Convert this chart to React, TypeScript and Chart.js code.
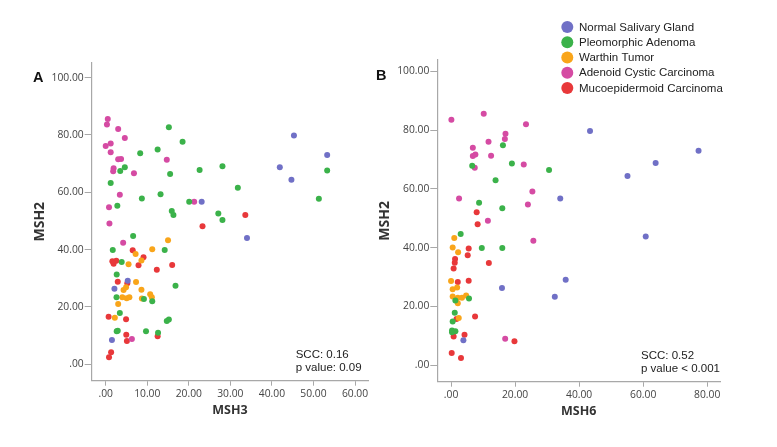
import React, { useEffect, useRef } from "react";
import { Chart, registerables } from "chart.js";

Chart.register(...registerables);

// ---------- data ----------
const groupLabels = [
  "Normal Salivary Gland",
  "Pleomorphic Adenoma",
  "Warthin Tumor",
  "Adenoid Cystic Carcinoma",
  "Mucoepidermoid Carcinoma",
];

const tickLabelsX_A = [0, 10, 20, 30, 40, 50, 60];
const tickLabelsX_B = [0, 20, 40, 60, 80];
const tickLabelsY = [0, 20, 40, 60, 80, 100];

// Panel A: [MSH3, MSH2]
const normalA: [number, number][] = [
  [45.3, 79.8], [53.3, 73.0], [41.9, 68.7], [44.7, 64.4], [23.1, 56.7],
  [34.0, 44.0], [5.3, 29.1], [2.1, 26.3], [1.5, 8.5],
];
const pleomorphicA: [number, number][] = [
  [15.2, 82.7], [18.5, 77.6], [8.3, 73.6], [12.5, 74.9], [4.6, 68.7], [3.5, 67.4],
  [15.5, 66.4], [22.6, 67.8], [28.1, 69.1], [31.8, 61.6], [53.3, 67.6], [51.3, 57.7],
  [1.2, 63.2], [8.7, 57.8], [13.2, 59.3], [2.8, 55.3], [20.1, 56.7], [15.9, 53.5],
  [16.3, 52.1], [27.1, 52.6], [28.1, 50.3], [6.6, 44.7], [1.7, 39.9], [14.2, 39.9],
  [3.85, 35.7], [2.65, 31.3], [16.8, 27.4], [2.6, 23.4], [9.2, 22.8], [11.2, 22.0],
  [3.4, 17.9], [14.7, 15.1], [15.2, 15.6], [2.65, 11.5], [2.9, 11.7], [9.7, 11.5],
  [12.6, 11.0],
];
const warthinA: [number, number][] = [
  [15.0, 43.3], [11.2, 40.1], [7.2, 38.5], [8.6, 36.2], [5.5, 34.9], [7.3, 28.7],
  [4.3, 25.9], [4.9, 26.9], [8.6, 26.0], [4.0, 23.4], [5.05, 23.0], [5.7, 23.4],
  [8.7, 22.9], [10.7, 24.4], [11.1, 23.4], [3.0, 21.0], [2.2, 16.2],
];
const adenoidA: [number, number][] = [
  [0.5, 85.6], [0.3, 83.6], [3.0, 82.1], [4.6, 78.9], [1.2, 77.0], [0.0, 76.1],
  [1.2, 74.0], [3.0, 71.5], [3.7, 71.6], [14.7, 71.3], [1.9, 68.4], [1.8, 67.3],
  [6.8, 66.6], [3.4, 59.1], [0.8, 54.8], [0.9, 49.1], [21.3, 56.7], [4.2, 42.4],
  [6.3, 8.8],
];
const mucoepidermoidA: [number, number][] = [
  [33.6, 52.1], [23.3, 48.1], [6.5, 39.8], [9.1, 37.3], [7.9, 34.5], [16.0, 34.6],
  [12.3, 33.0], [1.6, 35.9], [2.55, 36.1], [1.9, 35.1], [2.9, 28.8], [5.2, 28.3],
  [0.7, 16.6], [4.9, 15.7], [4.95, 10.3], [5.1, 8.1], [12.5, 9.8], [1.3, 4.2],
  [0.8, 2.4],
];

// Panel B: [MSH6, MSH2]
const normalB: [number, number][] = [
  [43.4, 79.7], [77.3, 73.0], [63.9, 68.8], [55.1, 64.4], [34.1, 56.8],
  [60.8, 43.8], [35.8, 29.1], [15.9, 26.3], [32.4, 23.3], [3.85, 8.5],
];
const pleomorphicB: [number, number][] = [
  [16.2, 74.9], [19.0, 68.7], [30.6, 66.5], [6.6, 67.9], [13.9, 63.0], [8.75, 55.3],
  [16.0, 53.4], [3.0, 44.7], [9.6, 39.9], [16.0, 39.9], [5.6, 22.7], [1.35, 22.0],
  [1.15, 17.9], [0.5, 14.9], [0.3, 11.8], [1.35, 11.6], [0.3, 11.2],
];
const warthinB: [number, number][] = [
  [1.0, 43.3], [0.5, 40.1], [2.2, 38.5], [0.0, 28.7], [0.5, 25.9], [1.9, 26.5],
  [0.5, 23.4], [2.1, 23.0], [3.4, 23.0], [4.7, 23.7], [2.1, 21.1], [2.4, 16.1],
];
const adenoidB: [number, number][] = [
  [0.1, 83.6], [10.2, 85.6], [23.4, 82.0], [17.0, 78.8], [16.8, 77.0], [11.7, 76.1],
  [6.8, 74.0], [6.8, 71.2], [7.6, 71.7], [12.5, 71.3], [22.7, 68.3], [7.4, 67.2],
  [2.5, 56.8], [25.4, 59.1], [24.0, 54.7], [11.5, 49.2], [25.7, 42.4], [16.9, 9.0],
];
const mucoepidermoidB: [number, number][] = [
  [8.0, 52.1], [8.3, 48.0], [5.5, 39.7], [5.2, 37.4], [1.25, 36.2], [1.15, 34.9],
  [0.8, 32.9], [11.8, 34.8], [2.1, 28.3], [5.5, 28.8], [7.5, 16.6], [1.7, 15.7],
  [4.2, 10.4], [0.8, 9.8], [19.8, 8.2], [0.2, 4.2], [3.1, 2.5],
];

const statsA = ["SCC: 0.16", "p value: 0.09"];
const statsB = ["SCC: 0.52", "p value < 0.001"];

// ---------- styles ----------
const groupColors = ["#7070c6", "#3bb24a", "#f9a51a", "#d54ba3", "#e8383a"];
const axisGray = "#a8a8a8";
const tickColor = "#444444";
const tickFont = { family: "'Open Sans', sans-serif", size: 10.3 };
const sansFont = "'Liberation Sans', Arial, sans-serif";

const fmt = (v: number | string) => {
  const n = Number(v);
  return n === 0 ? ".00" : n.toFixed(2);
};

function toDatasets(groups: [number, number][][]) {
  return groups.map((pts, i) => ({
    label: groupLabels[i],
    data: pts.map(([x, y]) => ({ x, y })),
    backgroundColor: groupColors[i],
    borderWidth: 0,
    pointRadius: 3,
    pointHoverRadius: 3,
  }));
}

type PanelOpts = {
  id: string;
  groups: [number, number][][];
  xTitle: string;
  xTicks: number[];
  xMin: number;
  xMax: number;
  yMin: number;
  yMax: number;
  padding: { left: number; right: number; top: number; bottom: number };
  yWidth: number;
  xHeight: number;
  letter: string;
  letterPos: [number, number];
  stats: string[];
  statsOffset: number;
  legend: boolean;
};

function makePlugin(p: PanelOpts) {
  return {
    id: "annot" + p.id,
    afterDraw(chart: any) {
      const ctx = chart.ctx as CanvasRenderingContext2D;
      const area = chart.chartArea;
      ctx.save();
      // panel letter
      ctx.fillStyle = "#111";
      ctx.font = `bold 14.5px ${sansFont}`;
      ctx.textAlign = "left";
      ctx.textBaseline = "alphabetic";
      ctx.fillText(p.letter, p.letterPos[0], p.letterPos[1]);
      // stats text
      ctx.font = `11.5px ${sansFont}`;
      ctx.fillStyle = "#222";
      p.stats.forEach((s, i) => {
        ctx.fillText(s, area.right - p.statsOffset, area.bottom - 22.7 + i * 13);
      });
      // legend
      if (p.legend) {
        ctx.font = `11.5px ${sansFont}`;
        ctx.textBaseline = "middle";
        chart.data.datasets.forEach((ds: any, i: number) => {
          const cy = 27 + i * 15.25;
          ctx.beginPath();
          ctx.fillStyle = ds.backgroundColor;
          ctx.arc(567.3, cy, 6, 0, Math.PI * 2);
          ctx.fill();
          ctx.fillStyle = "#222";
          ctx.fillText(ds.label, 579, cy + 0.5);
        });
      }
      ctx.restore();
    },
  };
}

function makeConfig(p: PanelOpts): any {
  return {
    type: "scatter",
    data: { datasets: toDatasets(p.groups) },
    options: {
      animation: false,
      responsive: false,
      events: [],
      layout: { padding: p.padding },
      plugins: { legend: { display: false }, tooltip: { enabled: false } },
      scales: {
        x: {
          type: "linear",
          min: p.xMin,
          max: p.xMax,
          afterBuildTicks: (s: any) => {
            s.ticks = p.xTicks.map((v) => ({ value: v }));
          },
          afterFit: (s: any) => {
            s.height = p.xHeight;
          },
          grid: { drawOnChartArea: false, drawTicks: true, tickLength: 5, color: axisGray },
          border: { display: true, color: axisGray, width: 1.2 },
          ticks: { callback: fmt, font: tickFont, color: tickColor, padding: 2, maxRotation: 0, autoSkip: false },
          title: {
            display: true,
            text: p.xTitle,
            color: "#333",
            padding: 0,
            font: { family: "'Open Sans', sans-serif", size: 12.5, weight: "bold" },
          },
        },
        y: {
          type: "linear",
          min: p.yMin,
          max: p.yMax,
          afterBuildTicks: (s: any) => {
            s.ticks = tickLabelsY.map((v) => ({ value: v }));
          },
          afterFit: (s: any) => {
            s.width = p.yWidth;
          },
          grid: { drawOnChartArea: false, drawTicks: true, tickLength: 7, color: axisGray },
          border: { display: true, color: axisGray, width: 1.2 },
          ticks: { callback: fmt, font: tickFont, color: tickColor, padding: 1, autoSkip: false },
          title: {
            display: true,
            text: "MSH2",
            color: "#333",
            padding: 0,
            font: { family: "'Open Sans', sans-serif", size: 14, weight: "bold" },
          },
        },
      },
    },
    plugins: [makePlugin(p)],
  };
}

const panelA: PanelOpts = {
  id: "A",
  groups: [normalA, pleomorphicA, warthinA, adenoidA, mucoepidermoidA],
  xTitle: "MSH3",
  xTicks: tickLabelsX_A,
  xMin: -3.37,
  xMax: 63.2,
  yMin: -5.74,
  yMax: 105.2,
  padding: { left: 31.6, right: 408.7, top: 62.7, bottom: 29.5 },
  yWidth: 60.1,
  xHeight: 36.8,
  letter: "A",
  letterPos: [33, 82],
  stats: statsA,
  statsOffset: 72.6,
  legend: false,
};

const panelB: PanelOpts = {
  id: "B",
  groups: [normalB, pleomorphicB, warthinB, adenoidB, mucoepidermoidB],
  xTitle: "MSH6",
  xTicks: tickLabelsX_B,
  xMin: -4.3,
  xMax: 84,
  yMin: -5.6,
  yMax: 103.9,
  padding: { left: 376.6, right: 57, top: 60, bottom: 27.8 },
  yWidth: 60.7,
  xHeight: 37.5,
  letter: "B",
  letterPos: [376, 80],
  stats: statsB,
  statsOffset: 79,
  legend: true,
};

export default function App() {
  const refA = useRef<HTMLCanvasElement>(null);
  const refB = useRef<HTMLCanvasElement>(null);

  useEffect(() => {
    const charts: Chart[] = [];
    if (refA.current) charts.push(new Chart(refA.current, makeConfig(panelA)));
    if (refB.current) charts.push(new Chart(refB.current, makeConfig(panelB)));
    return () => charts.forEach((c) => c.destroy());
  }, []);

  const canvasStyle: React.CSSProperties = {
    position: "absolute",
    left: 0,
    top: 0,
    width: 777,
    height: 447,
  };

  return (
    <div
      style={{
        position: "fixed",
        left: 0,
        top: 0,
        width: 777,
        height: 447,
        background: "#ffffff",
        overflow: "hidden",
      }}
    >
      <canvas ref={refA} width={777} height={447} style={canvasStyle} />
      <canvas ref={refB} width={777} height={447} style={canvasStyle} />
    </div>
  );
}
